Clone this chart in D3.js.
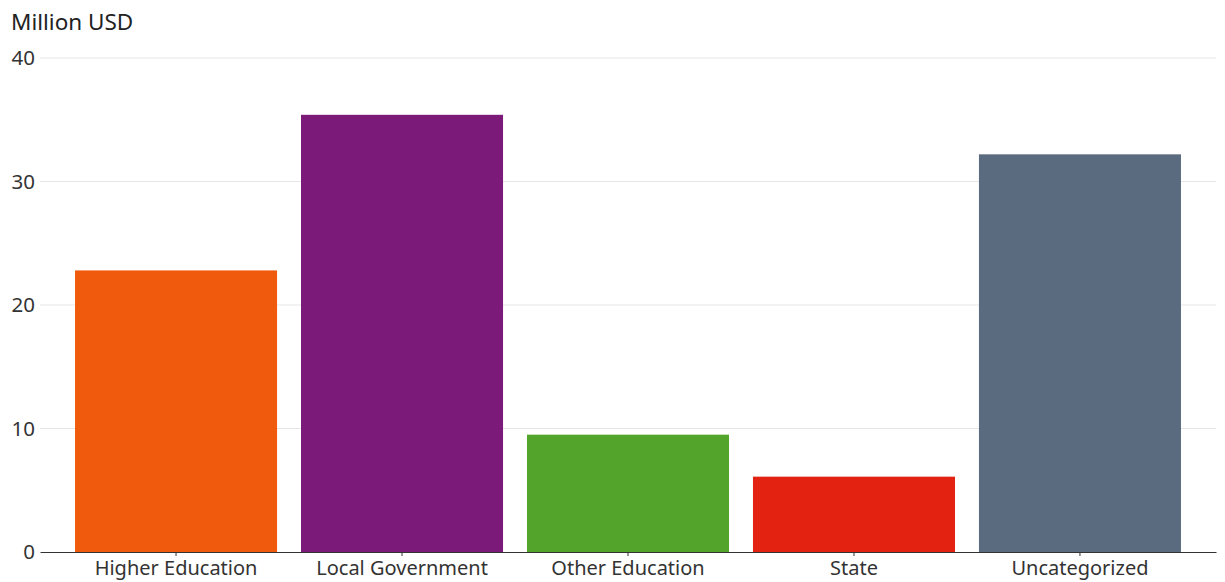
<!DOCTYPE html>
<html>
<head>
<meta charset="utf-8">
<script src="https://cdn.jsdelivr.net/npm/d3@7"></script>
<style>
  html, body { margin: 0; padding: 0; background: #fff; }
  svg { display: block; font-family: "Noto Sans", "Open Sans", sans-serif; }
</style>
</head>
<body>
<svg id="chart" width="1225" height="582"></svg>
<script>
// Spending by recipient category, in million USD
const categories = ["Higher Education", "Local Government", "Other Education", "State", "Uncategorized"];
const values = [22.8, 35.4, 9.5, 6.1, 32.2];
const colors = ["#F05A0C", "#7B1A78", "#52A52A", "#E32212", "#5A6B80"];
const yTicks = [0, 10, 20, 30, 40];
const yLabel = "Million USD";

const svg = d3.select("#chart");
const margin = { top: 58, right: 9, bottom: 30, left: 40 };
const width = 1225 - margin.left - margin.right;
const height = 552 - margin.top;

const x = d3.scaleBand()
  .domain(categories)
  .range([0, width])
  .paddingInner(0.106)
  .paddingOuter(0.155);

const y = d3.scaleLinear().domain([0, 40]).range([height, 0]);

const g = svg.append("g").attr("transform", `translate(${margin.left},${margin.top})`);

// horizontal gridlines
g.append("g")
  .selectAll("line")
  .data(yTicks.filter(t => t > 0))
  .join("line")
  .attr("x1", 0).attr("x2", width)
  .attr("y1", d => y(d)).attr("y2", d => y(d))
  .attr("stroke", "#e6e6e6")
  .attr("stroke-width", 1);

// y tick labels
const yAxis = g.append("g")
  .call(d3.axisLeft(y).tickValues(yTicks).tickSize(0).tickPadding(5));
yAxis.select(".domain").remove();
yAxis.selectAll("text")
  .attr("font-size", 20.5)
  .attr("fill", "#333")
  .style("font-family", "'Noto Sans', 'Open Sans', sans-serif");

// bars
g.append("g")
  .selectAll("rect")
  .data(categories)
  .join("rect")
  .attr("x", d => x(d))
  .attr("width", x.bandwidth())
  .attr("y", (d, i) => y(values[i]))
  .attr("height", (d, i) => y(0) - y(values[i]))
  .attr("fill", (d, i) => colors[i]);

// x axis
const xAxis = g.append("g")
  .attr("transform", `translate(0,${height})`)
  .call(d3.axisBottom(x).tickSize(4).tickSizeOuter(0).tickPadding(5));
xAxis.select(".domain").attr("stroke", "#333").attr("stroke-width", 1.2);
xAxis.selectAll(".tick line").attr("stroke", "#333");
xAxis.selectAll("text")
  .attr("font-size", 20)
  .attr("fill", "#333")
  .style("font-family", "'Noto Sans', 'Open Sans', sans-serif");

// unit label
svg.append("text")
  .attr("x", 11)
  .attr("y", 30)
  .attr("font-size", 22.5)
  .attr("fill", "#222")
  .text(yLabel);
</script>
</body>
</html>
